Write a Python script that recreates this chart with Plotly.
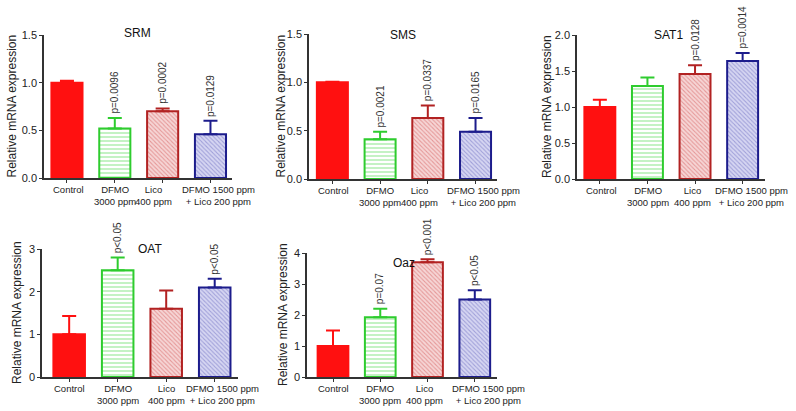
import plotly.graph_objects as go

W, H = 796, 411

categories = ["Control", "DFMO<br>3000 ppm", "Lico<br>400 ppm", "DFMO 1500 ppm<br>+ Lico 200 ppm"]

genes = ["SRM", "SMS", "SAT1", "OAT", "Oaz"]

srm_vals = [1.0, 0.52, 0.70, 0.46]
srm_err = [0.02, 0.11, 0.03, 0.14]
srm_p = [None, "p=0.0096", "p=0.0002", "p=0.0129"]

sms_vals = [1.0, 0.41, 0.63, 0.49]
sms_err = [0.005, 0.08, 0.13, 0.14]
sms_p = [None, "p=0.0021", "p=0.0337", "p=0.0165"]

sat1_vals = [1.0, 1.29, 1.46, 1.64]
sat1_err = [0.10, 0.12, 0.12, 0.11]
sat1_p = [None, None, "p=0.0128", "p=0.0014"]

oat_vals = [1.0, 2.5, 1.6, 2.1]
oat_err = [0.43, 0.30, 0.43, 0.20]
oat_p = [None, "p<0.05", None, "p<0.05"]

oaz_vals = [1.0, 1.93, 3.7, 2.5]
oaz_err = [0.50, 0.27, 0.10, 0.30]
oaz_p = [None, "p=0.07", "p<0.001", "p<0.05"]

y_max = [1.5, 1.5, 2.0, 3, 4]
y_dtick = [0.5, 0.5, 0.5, 1, 1]
y_fmt = [".1f", ".1f", ".1f", "d", "d"]

panels = [
    (srm_vals, srm_err, srm_p),
    (sms_vals, sms_err, sms_p),
    (sat1_vals, sat1_err, sat1_p),
    (oat_vals, oat_err, oat_p),
    (oaz_vals, oaz_err, oaz_p),
]

# layout in window pixels: (x_axis_left, x_axis_right, y_top, y_bottom, range_start, range_end)
geom = [
    (44, 232, 35, 178, -0.48, 3.45),
    (309, 497, 34, 179, -0.49, 3.45),
    (577, 765, 35, 179, -0.48, 3.47),
    (42, 238, 249, 377, -0.56, 3.48),
    (307, 497, 253, 377, -0.55, 3.47),
]
title_pos = [(137, 33), (403, 35), (668, 35), (150, 249), (404, 263)]
ytitle_x = [12, 281, 547, 17, 283]
# horizontal offset (px) of each category label from its bar centre
label_shift = [
    [2, 0, -9, 8],
    [1, 0, -8, 8],
    [2, 1, -3, 9],
    [0, 0, 0, 8],
    [0, 0, -3, 14],
]

outline = ["#FF1010", "#2ECC2E", "#B22222", "#1C1C8C"]
styles = [
    dict(color="#FF1010"),
    dict(color="white", pattern=dict(shape="-", fgcolor="#55D855", bgcolor="white", size=4, solidity=0.35)),
    dict(color="#F3C8C8", pattern=dict(shape="\\", fgcolor="#D55A5A", bgcolor="#F6D6D6", size=3, solidity=0.35)),
    dict(color="#CCCCEE", pattern=dict(shape="\\", fgcolor="#6A6AC0", bgcolor="#D6D6F2", size=3, solidity=0.35)),
]

FONT = "Liberation Sans, Arial"


def px_x(x):
    return x / W


def px_y(y):
    return 1 - y / H


fig = go.Figure()
annotations = []
layout = {}

for i, (vals, errs, pvals) in enumerate(panels):
    n = "" if i == 0 else str(i + 1)
    xa, ya = "x" + n, "y" + n
    x0, x1, yt, yb, r0, r1 = geom[i]
    for j in range(4):
        marker = dict(line=dict(color=outline[j], width=2))
        marker.update(styles[j])
        fig.add_trace(go.Bar(
            x=[categories[j]], y=[vals[j]], xaxis=xa, yaxis=ya,
            marker=marker, width=0.65, showlegend=False,
            error_y=dict(type="data", array=[errs[j]], arrayminus=[0], symmetric=False,
                         color=outline[j], thickness=2, width=7),
        ))
        if pvals[j]:
            txt = pvals[j]
            half_len = len(txt) * 5.3 / 2
            annotations.append(dict(
                x=categories[j], y=vals[j] + errs[j], xref=xa, yref=ya,
                text=txt, textangle=-90, showarrow=False,
                xanchor="center", yanchor="middle", yshift=half_len + 4,
                font=dict(size=10, color="#333333", family=FONT),
            ))
        # category label
        annotations.append(dict(
            x=categories[j], y=px_y(yb), xref=xa, yref="paper",
            text=categories[j], showarrow=False, xanchor="center", yanchor="top",
            xshift=label_shift[i][j], yshift=-4, align="center",
            font=dict(size=9.5, color="#222222", family=FONT),
        ))
    layout["xaxis" + n] = dict(
        domain=[px_x(x0), px_x(x1)], anchor=ya, type="category",
        categoryorder="array", categoryarray=categories,
        range=[r0, r1], showline=True, linecolor="#333333", linewidth=1.5,
        ticks="outside", ticklen=3, tickcolor="#333333", showgrid=False,
        showticklabels=False, automargin=False, zeroline=False,
    )
    layout["yaxis" + n] = dict(
        domain=[px_y(yb), px_y(yt)], anchor=xa, range=[0, y_max[i]],
        dtick=y_dtick[i], tickformat=y_fmt[i], showline=True, linecolor="#333333",
        linewidth=1.5, ticks="outside", ticklen=3, tickcolor="#333333",
        showgrid=False, zeroline=False, automargin=False,
        tickfont=dict(size=11, color="#222222", family=FONT),
    )
    tx, ty = title_pos[i]
    annotations.append(dict(
        x=px_x(tx), y=px_y(ty), xref="paper", yref="paper", text=genes[i],
        showarrow=False, xanchor="center", yanchor="middle",
        font=dict(size=12, color="#111111", family=FONT),
    ))
    annotations.append(dict(
        x=px_x(ytitle_x[i]), y=px_y((yt + yb) / 2), xref="paper", yref="paper",
        text="Relative mRNA expression", textangle=-90, showarrow=False,
        xanchor="center", yanchor="middle",
        font=dict(size=12, color="#222222", family=FONT),
    ))

fig.update_layout(
    width=W, height=H, margin=dict(l=0, r=0, t=0, b=0),
    paper_bgcolor="white", plot_bgcolor="white",
    font=dict(family=FONT, color="#222222"),
    annotations=annotations, bargap=0.35, hovermode=False,
    **layout,
)

fig.write_html(
    "out.html",
    config={"displayModeBar": False},
    post_script="document.body.style.margin='0px';document.body.style.overflow='hidden';",
)
